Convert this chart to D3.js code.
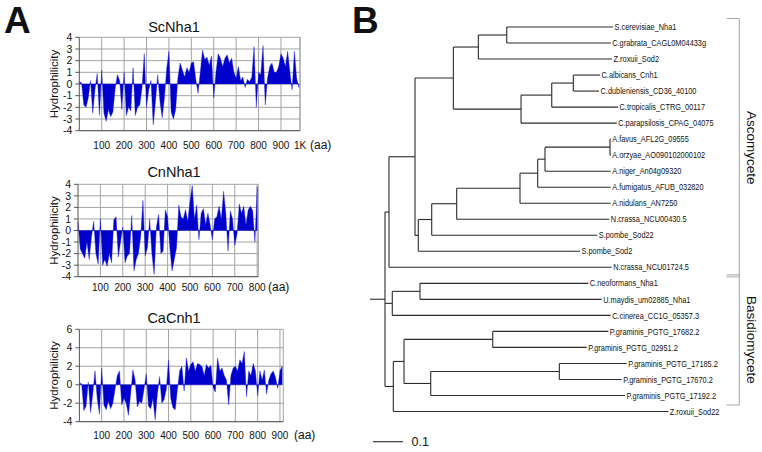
<!DOCTYPE html>
<html><head><meta charset="utf-8">
<script src="https://cdn.jsdelivr.net/npm/d3@7"></script>
<style>
body{margin:0;background:#fff}
svg{display:block}
text{font-family:"Liberation Sans",Arial,Helvetica,sans-serif;fill:#111}
</style>
</head><body>
<svg id="c" width="762" height="452"></svg>
<script>
// ---------- DATA ----------
// Hydrophilicity profiles, one value every 10 aa starting at aa 0
const scNha1Values = [0.2,0.1,-1.8,-2.0,-1.2,0.3,-2.5,-0.5,0.9,-2.7,
  1.2,-2.5,-3.2,-2.2,-2.8,-2.4,-0.4,0.8,0.3,-2.2,
  1.0,-2.7,-2.0,-2.3,1.4,-2.7,-2.0,-1.8,-0.3,2.6,
  -2.0,-0.5,0.3,-3.5,-1.5,0.8,-1.5,-2.9,-1.2,1.3,
  2.8,-2.4,-3.0,-2.2,0.5,1.8,1.2,0.6,1.4,1.0,
  1.8,1.9,0.4,-0.8,1.0,2.9,2.1,2.3,1.6,2.4,
  -1.2,1.0,2.6,2.2,1.5,2.2,2.5,1.8,2.2,1.0,
  0.5,1.5,0.3,0.6,-0.3,0.4,0.2,0.6,3.2,-2.0,
  1.0,0.8,3.3,-1.8,0.5,1.5,1.8,1.0,1.0,1.5,
  2.6,2.2,1.5,2.8,1.0,-0.5,2.8,0.5,-0.3];
const cnNha1Values = [0.8,-1.6,-2.0,-2.4,-1.0,-2.5,-0.6,0.8,-2.0,-2.9,
  1.0,-3.0,-2.5,-3.1,-2.0,-2.8,0.9,1.2,-2.3,-1.0,
  0.3,-2.8,-2.2,-2.0,1.3,-3.5,-2.5,-2.0,-0.5,2.6,
  -2.2,-1.5,1.0,-2.0,-3.8,0.3,1.4,-2.0,-1.8,1.8,
  1.2,-1.5,-3.5,-2.5,-1.5,2.2,1.2,1.0,1.8,0.8,
  2.5,3.9,1.0,2.2,-0.8,1.5,1.9,0.5,1.5,0.5,
  -0.8,1.0,1.2,2.1,1.0,3.4,1.5,-1.8,1.7,1.0,
  -1.3,-0.3,2.3,1.5,2.1,0.5,1.8,2.1,1.7,-1.0,3.8];
const caCnh1Values = [0.2,0.1,-2.8,-2.3,0.3,-3.0,-1.0,1.5,-1.5,-3.2,
  1.8,-2.2,-2.7,-1.8,-2.6,-2.0,-0.5,1.0,1.5,-2.2,
  -1.5,-2.0,-3.3,-1.0,1.6,0.5,-2.4,-1.8,-2.0,-0.5,
  1.2,-2.3,-2.6,-1.5,-3.8,-1.0,0.9,-2.0,-1.6,-0.5,
  2.7,-1.5,-2.5,-2.7,-0.5,1.5,2.0,-0.7,2.9,1.5,
  2.2,2.5,1.5,2.3,2.2,2.0,1.0,2.2,1.8,2.1,
  -0.3,-0.8,2.9,1.5,1.8,1.0,0.5,-2.2,1.0,1.8,
  2.0,1.5,2.7,2.3,3.6,-1.3,1.5,1.0,2.3,1.5,
  -1.2,1.5,0.5,1.6,-1.0,0.5,1.2,1.5,0.8,-0.4,1.5,2.0];
const profileStep = 10;
const proteinTitles = ["ScNha1","CnNha1","CaCnh1"];
const proteinLengths = [985, 805, 915];
const xTickValues = [[100,200,300,400,500,600,700,800,900,985],
                     [100,200,300,400,500,600,700,800],
                     [100,200,300,400,500,600,700,800,900]];
const xTickLabels = [["100","200","300","400","500","600","700","800","900","1K"],
                     ["100","200","300","400","500","600","700","800"],
                     ["100","200","300","400","500","600","700","800","900"]];
const yDomains = [[-4,4],[-4,4],[-4,6]];
const yTickValues = [[-4,-3,-2,-1,0,1,2,3,4],[-4,-3,-2,-1,0,1,2,3,4],[-4,-2,0,2,4,6]];

// Phylogenetic tree (Newick, branch lengths in substitutions/site)
const treeNewick =
 "(((((((S.cerevisiae_Nha1:0.3543,C.grabrata_CAGL0M04433g:0.3467):0.0947,Z.roxuii_Sod2:0.4457):0.0833," +
 "(((C.albicans_Cnh1:0.089,C.dubleniensis_CD36_40100:0.0857):0.072,C.tropicalis_CTRG_00117:0.221):0.1023,C.parapsilosis_CPAG_04075:0.319):0.2257):0.1278," +
 "(((((((A.favus_AFL2G_09555:0.0023,A.orzyae_AO090102000102:0.0023):0.2167,A.niger_An04g09320:0.219):0.0243,A.fumigatus_AFUB_032820:0.2433):0.059,A.nidulans_AN7250:0.3023):0.211,N.crassa_NCU00430.5:0.5087):0.0833,S.pombe_Sod22:0.552):0.0447,S.pombe_Sod2:0.539):0.011):0.0867," +
 "N.crassa_NCU01724.5:0.7423):0.0133," +
 "((C.neoformans_Nha1:0.561,U.maydis_um02885_Nha1:0.6057):0.0923,C.cinerea_CC1G_05357.3:0.728):0.0243," +
 "(((P.graminis_PGTG_17682.2:0.3853,P.graminis_PGTG_02951.2:0.3133):0.2957,((P.graminis_PGTG_17185.2:0.2247,P.graminis_PGTG_17670.2:0.208):0.4287,P.graminis_PGTG_17192.2:0.6477):0.089):0.0357,Z.roxuii_Sod22:0.9167):0.0277);";
const rootStubLength = 0.05;
const scaleBarValue = 0.1;
const cladeNames = ["Ascomycete","Basidiomycete"];
const cladeFirstLeaf = ["S.cerevisiae_Nha1","C.neoformans_Nha1"];
const cladeLastLeaf = ["N.crassa_NCU01724.5","P.graminis_PGTG_17192.2"];

// ---------- LAYOUT ----------
const svg = d3.select("#c");
const boxes = [
  {left:79.3, right:300, top:37.3, bottom:130.7, titleY:32, tickY:149, aaX:310},
  {left:78, right:258.3, top:184.3, bottom:276.7, titleY:176.7, tickY:290.5, aaX:268},
  {left:79.4, right:283.3, top:329.3, bottom:421.7, titleY:323.3, tickY:439, aaX:294}
];
const allValues = [scNha1Values, cnNha1Values, caCnh1Values];

svg.append("text").attr("x",4).attr("y",33).attr("font-size",37).attr("font-weight","bold").text("A");
svg.append("text").attr("x",352).attr("y",33).attr("font-size",37).attr("font-weight","bold").text("B");

boxes.forEach((b,i)=>{
  const g = svg.append("g");
  const x = d3.scaleLinear().domain([0, proteinLengths[i]]).range([b.left, b.right]);
  const y = d3.scaleLinear().domain(yDomains[i]).range([b.bottom, b.top]);
  g.selectAll(".hg").data(yTickValues[i]).enter().append("line")
    .attr("x1",b.left).attr("x2",b.right).attr("y1",d=>y(d)).attr("y2",d=>y(d))
    .attr("stroke","#a3a3a3").attr("stroke-width",1);
  g.selectAll(".vg").data(xTickValues[i]).enter().append("line")
    .attr("x1",d=>x(d)).attr("x2",d=>x(d)).attr("y1",b.top).attr("y2",b.bottom)
    .attr("stroke","#a3a3a3").attr("stroke-width",1);
  g.append("line").attr("x1",b.right).attr("x2",b.right).attr("y1",b.top).attr("y2",b.bottom)
    .attr("stroke","#a3a3a3");
  const pts = allValues[i].map((v,k)=>({aa:k*profileStep, v:v}));
  const area = d3.area().x(d=>x(d.aa)).y0(y(0)).y1(d=>y(d.v));
  g.append("path").datum(pts).attr("d",area).attr("fill","#0000cc")
    .attr("stroke","#1a1ad0").attr("stroke-width",0.4);
  g.append("line").attr("x1",b.left).attr("x2",b.left).attr("y1",b.top).attr("y2",b.bottom).attr("stroke","#555");
  g.append("line").attr("x1",b.left).attr("x2",b.right).attr("y1",b.bottom).attr("y2",b.bottom).attr("stroke","#555");
  g.selectAll(".yt").data(yTickValues[i]).enter().append("line")
    .attr("x1",b.left-4).attr("x2",b.left).attr("y1",d=>y(d)).attr("y2",d=>y(d)).attr("stroke","#555");
  g.selectAll(".yl").data(yTickValues[i]).enter().append("text")
    .attr("x",b.left-7).attr("y",d=>y(d)).attr("dy","0.35em").attr("text-anchor","end")
    .attr("font-size",10.5).text(d=>d);
  g.selectAll(".xl").data(xTickValues[i]).enter().append("text")
    .attr("x",d=>x(d)).attr("y",b.tickY).attr("text-anchor","middle")
    .attr("font-size",10).text((d,k)=>xTickLabels[i][k]);
  g.append("text").attr("x",b.aaX).attr("y",b.tickY).attr("font-size",12).text("(aa)");
  g.append("text").attr("x",174).attr("y",b.titleY).attr("text-anchor","middle").attr("font-size",14.5).text(proteinTitles[i]);
  g.append("text").attr("transform",`translate(53.5,${(b.top+b.bottom)/2}) rotate(-90)`)
    .attr("dy","0.35em").attr("text-anchor","middle").attr("font-size",11.5).text("Hydrophilicity");
});

// ---------- TREE ----------
function parseNewick(s){
  let i=0;
  function node(){
    const n={};
    if(s[i]==='('){
      i++; n.children=[];
      while(true){ n.children.push(node()); if(s[i]===','){i++;} else break; }
      i++;
    }
    let name='';
    while(i<s.length && !",):;".includes(s[i])) name+=s[i++];
    n.name=name;
    n.len=0;
    if(s[i]===':'){ i++; let num=''; while(i<s.length && !",);".includes(s[i])) num+=s[i++]; n.len=+num; }
    return n;
  }
  return node();
}
const root = d3.hierarchy(parseNewick(treeNewick));
root.each(d=>{ d.dist = d.parent ? d.parent.dist + d.data.len : 0; });
const leaves = root.leaves();
const ty = d3.scaleLinear().domain([0, leaves.length-1]).range([27, 411.5]);
const tx = d3.scaleLinear().domain([0, 1]).range([385, 685]);
leaves.forEach((d,k)=>{ d.py = ty(k); });
root.eachAfter(d=>{ if(d.children){ d.py = (d.children[0].py + d.children[d.children.length-1].py)/2; } });

const tg = svg.append("g").attr("stroke","#2a2a2a").attr("stroke-width",1.1).attr("fill","none");
root.descendants().forEach(d=>{
  if(d.parent){
    tg.append("line").attr("x1",tx(d.parent.dist)).attr("x2",tx(d.dist)).attr("y1",d.py).attr("y2",d.py);
  }
  if(d.children){
    tg.append("line").attr("x1",tx(d.dist)).attr("x2",tx(d.dist))
      .attr("y1",d.children[0].py).attr("y2",d.children[d.children.length-1].py);
  }
});
tg.append("line").attr("x1",tx(-rootStubLength)).attr("x2",tx(0)).attr("y1",root.py).attr("y2",root.py);

svg.append("g").selectAll("text").data(leaves).enter().append("text")
  .attr("transform",d=>`translate(${tx(d.dist)+1.5},${d.py}) scale(0.82,1)`)
  .attr("dy","0.35em").attr("font-size",9).attr("fill","#222").text(d=>d.data.name);

const sbY = 441.7;
svg.append("line").attr("x1",tx(-0.04)).attr("x2",tx(-0.04+scaleBarValue)).attr("y1",sbY).attr("y2",sbY)
  .attr("stroke","#2a2a2a").attr("stroke-width",1.1);
svg.append("text").attr("x",tx(-0.04+scaleBarValue)+8.5).attr("y",sbY).attr("dy","0.35em").attr("font-size",12.5).text(scaleBarValue);

const leafByName = new Map(leaves.map(d=>[d.data.name,d]));
cladeNames.forEach((c,k)=>{
  const y1 = leafByName.get(cladeFirstLeaf[k]).py - 8.5;
  const y2 = leafByName.get(cladeLastLeaf[k]).py + 9.5;
  svg.append("path").attr("d",`M726.5,${y1}H739.3V${y2}H726.5`).attr("fill","none")
    .attr("stroke","#a8a8a8").attr("stroke-width",1);
  svg.append("text").attr("transform",`translate(751.3,${(y1+y2)/2}) rotate(90)`)
    .attr("dy","0.35em").attr("text-anchor","middle").attr("font-size",13.5).attr("fill","#222").text(c);
});
</script>
</body></html>
